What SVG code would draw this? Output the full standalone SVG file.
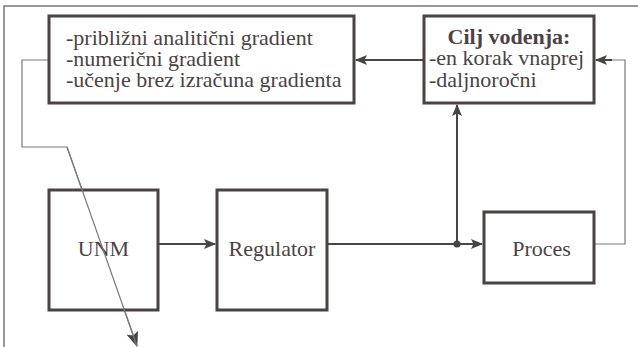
<svg xmlns="http://www.w3.org/2000/svg" width="638" height="347" viewBox="0 0 638 347">
<style>
.box{fill:#fff;stroke:#4b4343;stroke-width:3}
.t{font-family:"Liberation Serif","Times New Roman",serif;font-size:22px;fill:#4b4343}
.b{font-weight:bold}
.main{fill:none;stroke:#4b4343;stroke-width:2}
.thin{fill:none;stroke:#7d7777;stroke-width:1.2}
</style>
<defs>
<marker id="ah" markerWidth="12" markerHeight="10" refX="11" refY="5" orient="auto" markerUnits="userSpaceOnUse">
<path d="M0,0 L12,5 L0,10 L2.5,5 Z" fill="#4b4343"/>
</marker>
<marker id="ahl" markerWidth="15" markerHeight="12" refX="14" refY="6" orient="auto" markerUnits="userSpaceOnUse">
<path d="M0,0 L15,6 L0,12 L3,6 Z" fill="#4b4343"/>
</marker>
</defs>
<rect x="4" y="6" width="700" height="400" fill="#fff" stroke="#7d7777" stroke-width="1.5"/>
<g id="connectors">
<line class="main" x1="424" y1="60" x2="356" y2="60" marker-end="url(#ah)"/>
<polyline class="thin" points="594,244 625,244 625,60 596,60"/>
<line class="main" x1="612" y1="60" x2="596" y2="60" stroke-width="1.2" marker-end="url(#ah)"/>
<line class="main" x1="158" y1="244" x2="215" y2="244" marker-end="url(#ah)"/>
<line class="main" x1="327" y1="244" x2="482" y2="244" marker-end="url(#ah)"/>
<line class="main" x1="457" y1="244" x2="457" y2="105" marker-end="url(#ah)"/>
<circle cx="457" cy="244" r="3.5" fill="#4b4343"/>
<polyline class="thin" points="49,60 22,60 22,147 67,147 137,346" marker-end="url(#ahl)"/>
</g>
<g id="gradient">
<rect class="box" x="49" y="16" width="305" height="87"/>
<text class="t" x="66" y="45">-približni analitični gradient</text>
<text class="t" x="66" y="66">-numerični gradient</text>
<text class="t" x="66" y="87">-učenje brez izračuna gradienta</text>
</g>
<g id="cilj">
<rect class="box" x="424" y="16" width="170" height="87"/>
<text class="t b" x="509" y="44" text-anchor="middle">Cilj vodenja:</text>
<text class="t" x="429" y="65">-en korak vnaprej</text>
<text class="t" x="429" y="87">-daljnoročni</text>
</g>
<g id="unm">
<rect class="box" x="49" y="190" width="109" height="120"/>
<text class="t" x="103.5" y="256" text-anchor="middle">UNM</text>
</g>
<g id="regulator">
<rect class="box" x="217" y="190" width="110" height="120"/>
<text class="t" x="272" y="256" text-anchor="middle">Regulator</text>
</g>
<g id="proces">
<rect class="box" x="484" y="212" width="110" height="71"/>
<text class="t" x="541.5" y="256" text-anchor="middle">Proces</text>
</g>
<polyline class="thin" points="67,147 137,346"/>
</svg>
